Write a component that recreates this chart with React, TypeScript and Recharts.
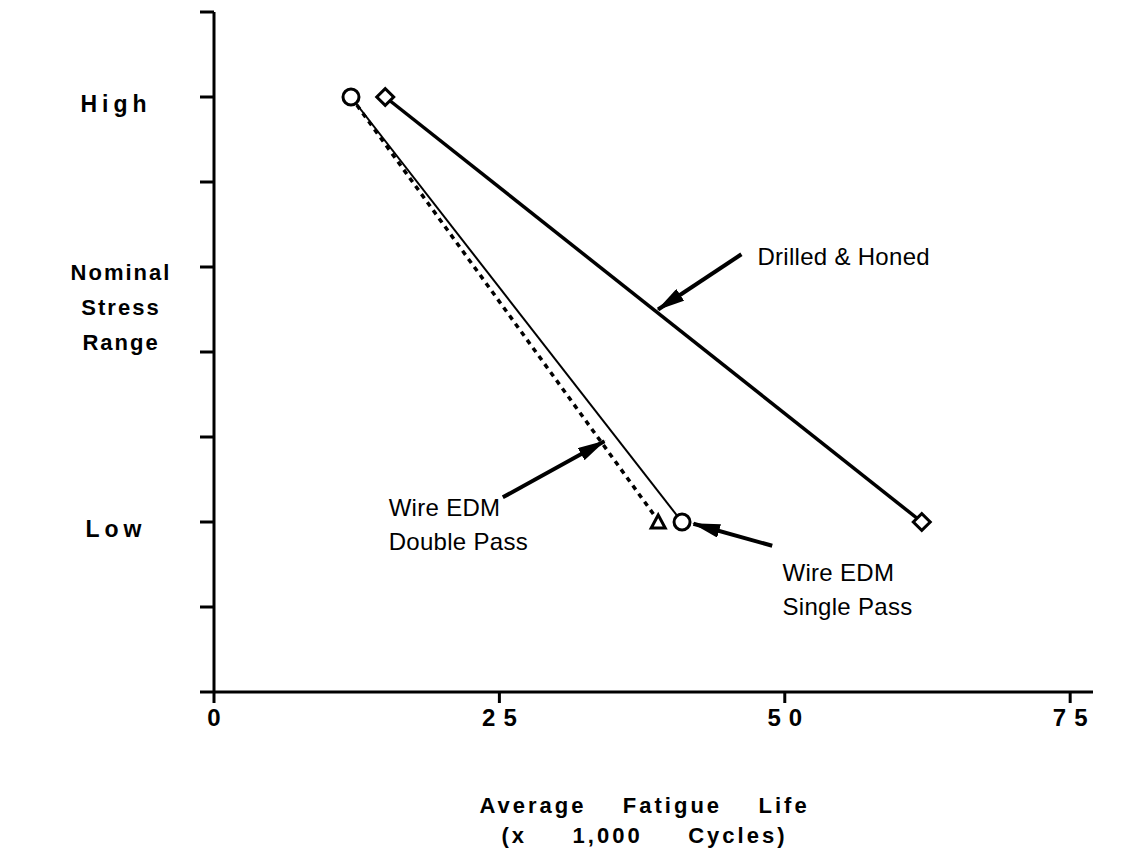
import React from "react";
import {
  ComposedChart,
  Line,
  XAxis,
  YAxis,
  ReferenceLine,
} from "recharts";

// x = average fatigue life (x 1,000 cycles), y = stress level (7 = High, 2 = Low)
const drilledHoned = [
  { x: 15, y: 7 },
  { x: 62, y: 2 },
];
const wireSinglePass = [
  { x: 12, y: 7 },
  { x: 41, y: 2 },
];
const wireDoublePass = [
  { x: 12, y: 7 },
  { x: 39, y: 2 },
];

const xTicks = [0, 25, 50, 75];
const yTicks = [0, 1, 2, 3, 4, 5, 6, 7, 8];
const yTickLabels: Record<number, string> = { 7: "High", 2: "Low" };

const yAxisTitle = ["Nominal", "Stress", "Range"];
const xAxisTitle = ["Average    Fatigue    Life", "(x     1,000     Cycles)"];

// annotation arrows in data coords: [tail, head]
const arrows = [
  { from: { x: 46.2, y: 5.15 }, to: { x: 38.9, y: 4.5 } },
  { from: { x: 25.3, y: 2.29 }, to: { x: 34.2, y: 2.95 } },
  { from: { x: 48.9, y: 1.72 }, to: { x: 42.0, y: 1.98 } },
];

const notes = [
  { x: 47.6, y: 5.12, lines: ["Drilled & Honed"] },
  { x: 15.3, y: 2.16, lines: ["Wire EDM", "Double Pass"] },
  { x: 49.8, y: 1.4, lines: ["Wire EDM", "Single Pass"] },
];

const font = "'Liberation Sans', Arial, sans-serif";

const Circle = (p: any) => (
  <circle key={p.key} cx={p.cx} cy={p.cy} r={8} fill="#fff" stroke="#000" strokeWidth={3} />
);
const Diamond = (p: any) => (
  <rect
    key={p.key}
    x={p.cx - 6}
    y={p.cy - 6}
    width={12}
    height={12}
    fill="#fff"
    stroke="#000"
    strokeWidth={3}
    transform={`rotate(45 ${p.cx} ${p.cy})`}
  />
);
const Triangle = (p: any) =>
  p.index === 0 ? (
    <g key={p.key} />
  ) : (
    <path
      key={p.key}
      d={`M${p.cx - 1},${p.cy - 7} L${p.cx + 6},${p.cy + 6} L${p.cx - 8},${p.cy + 6} Z`}
      fill="#fff"
      stroke="#000"
      strokeWidth={3}
    />
  );

const YTick = ({ x, y, payload }: any) => {
  const label = yTickLabels[payload.value];
  if (!label) return null;
  return (
    <text
      x={x - 82}
      y={y}
      dy={15}
      textAnchor="middle"
      fontFamily={font}
      fontWeight="bold"
      fontSize={23}
      letterSpacing={5}
      fill="#000"
    >
      {label}
    </text>
  );
};

const XTick = ({ x, y, payload }: any) => (
  <text
    x={x + 4}
    y={y}
    dy={21}
    textAnchor="middle"
    fontFamily={font}
    fontWeight="bold"
    fontSize={24}
    letterSpacing={8}
    fill="#000"
  >
    {payload.value}
  </text>
);

const YTitle = ({ viewBox }: any) => (
  <text fontFamily={font} fontWeight="bold" fontSize={22} letterSpacing={2} fill="#000" textAnchor="middle">
    {yAxisTitle.map((t, i) => (
      <tspan key={t} x={viewBox.x + 107} y={viewBox.y + 268 + i * 35}>
        {t}
      </tspan>
    ))}
  </text>
);

const XTitle = ({ viewBox }: any) => (
  <text
    fontFamily={font}
    fontWeight="bold"
    fontSize={22}
    letterSpacing={3}
    fill="#000"
    textAnchor="middle"
    style={{ whiteSpace: "pre" }}
  >
    {xAxisTitle.map((t, i) => (
      <tspan key={t} x={viewBox.x + viewBox.width / 2 - 9} y={viewBox.y + 121 + i * 30}>
        {t}
      </tspan>
    ))}
  </text>
);

const NoteLabel = (note: any) => ({ viewBox }: any) => (
  <text fontFamily={font} fontSize={24} letterSpacing={0.3} fill="#000" textAnchor="start">
    {note.lines.map((t: string, i: number) => (
      <tspan key={t} x={viewBox.x} y={viewBox.y + 8 + i * 34}>
        {t}
      </tspan>
    ))}
  </text>
);

export default function App() {
  return (
    <div style={{ position: "absolute", left: 0, top: 0, background: "#fff" }}>
      <ComposedChart
        width={1121}
        height={860}
        margin={{ top: 12, right: 28, bottom: 108, left: 14 }}
      >
        <defs>
          <marker
            id="arrowHead"
            viewBox="0 0 20 10"
            refX="19"
            refY="5"
            markerWidth="7"
            markerHeight="3.5"
            orient="auto"
            markerUnits="strokeWidth"
          >
            <path d="M0,0 L20,5 L0,10 Z" fill="#000" />
          </marker>
        </defs>
        <XAxis
          type="number"
          dataKey="x"
          domain={[0, 77]}
          ticks={xTicks}
          allowDataOverflow
          height={60}
          tickSize={11}
          axisLine={{ stroke: "#000", strokeWidth: 3 }}
          tickLine={{ stroke: "#000", strokeWidth: 3 }}
          tick={<XTick />}
          label={<XTitle />}
        />
        <YAxis
          type="number"
          dataKey="y"
          domain={[0, 8]}
          ticks={yTicks}
          width={200}
          tickSize={14}
          axisLine={{ stroke: "#000", strokeWidth: 3 }}
          tickLine={{ stroke: "#000", strokeWidth: 3 }}
          tick={<YTick />}
          label={<YTitle />}
        />
        {arrows.map((a, i) => (
          <ReferenceLine
            key={`arrow-${i}`}
            segment={[a.from, a.to]}
            stroke="#000"
            strokeWidth={4}
            markerEnd="url(#arrowHead)"
            ifOverflow="visible"
          />
        ))}
        {notes.map((n, i) => (
          <ReferenceLine
            key={`note-${i}`}
            segment={[
              { x: n.x, y: n.y },
              { x: n.x, y: n.y },
            ]}
            stroke="none"
            ifOverflow="visible"
            label={NoteLabel(n)}
          />
        ))}
        <Line
          data={wireDoublePass}
          dataKey="y"
          stroke="#000"
          strokeWidth={3.5}
          strokeDasharray="5 5"
          dot={Triangle}
          activeDot={false}
          isAnimationActive={false}
        />
        <Line
          data={wireSinglePass}
          dataKey="y"
          stroke="#000"
          strokeWidth={2}
          dot={Circle}
          activeDot={false}
          isAnimationActive={false}
        />
        <Line
          data={drilledHoned}
          dataKey="y"
          stroke="#000"
          strokeWidth={3.5}
          dot={Diamond}
          activeDot={false}
          isAnimationActive={false}
        />
      </ComposedChart>
    </div>
  );
}
